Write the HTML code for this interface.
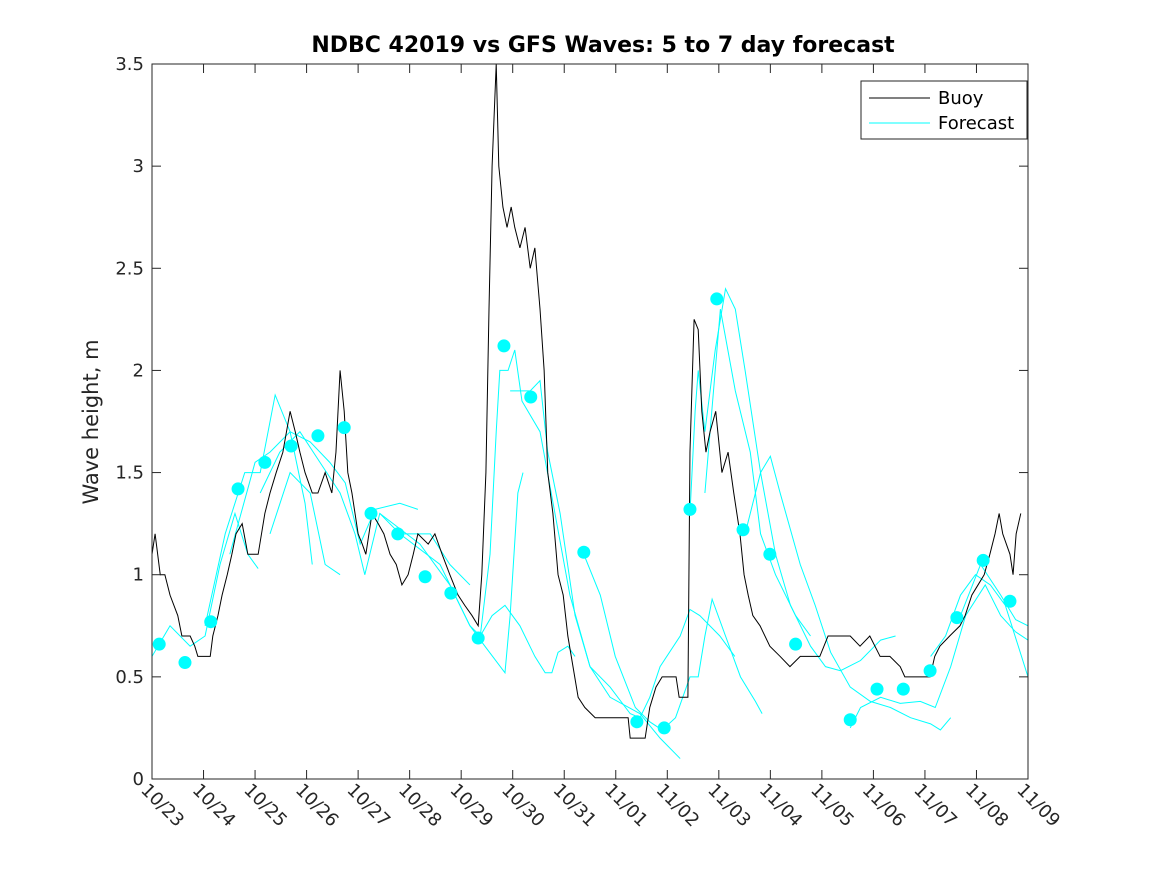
<!DOCTYPE html>
<html><head><meta charset="utf-8"><style>
body{margin:0;background:#fff;}
svg{display:block;font-family:"DejaVu Sans","Liberation Sans",sans-serif;}
</style></head><body>
<svg id="chart" width="1167" height="875">
<rect width="1167" height="875" fill="#fff"/>
<g id="plot"></g>
</svg>
<script>
const xTickLabels=["10/23","10/24","10/25","10/26","10/27","10/28","10/29","10/30","10/31","11/01","11/02","11/03","11/04","11/05","11/06","11/07","11/08","11/09"];
const yTicks=[0,0.5,1,1.5,2,2.5,3,3.5];
const yTickLabels=["0","0.5","1","1.5","2","2.5","3","3.5"];
const buoyDays=[0,.06,.16,.25,.35,.50,.58,.74,.83,.89,1.13,1.18,1.28,1.36,1.46,1.55,1.63,1.75,1.86,2.06,2.19,2.29,2.41,2.54,2.68,2.78,2.87,2.97,3.11,3.22,3.36,3.49,3.57,3.65,3.73,3.80,3.88,4.00,4.08,4.15,4.27,4.39,4.50,4.62,4.74,4.85,4.97,5.07,5.16,5.36,5.49,5.63,5.78,5.94,6.07,6.21,6.33,6.40,6.48,6.54,6.60,6.68,6.73,6.81,6.89,6.97,7.04,7.14,7.24,7.34,7.43,7.53,7.61,7.68,7.78,7.88,7.98,8.07,8.17,8.27,8.40,8.60,8.89,9.24,9.28,9.57,9.66,9.78,9.90,10.17,10.23,10.40,10.44,10.52,10.60,10.67,10.75,10.83,10.94,11.06,11.18,11.29,11.41,11.49,11.57,11.66,11.80,11.99,12.19,12.38,12.58,12.77,12.96,13.12,13.55,13.74,13.93,14.13,14.32,14.52,14.61,15.10,15.19,15.29,15.48,15.68,15.78,15.91,16.03,16.15,16.26,16.36,16.44,16.51,16.65,16.71,16.77,16.86];
const buoyVals=[1.1,1.2,1.0,1.0,0.9,0.8,0.7,0.7,0.65,0.6,0.6,0.7,0.8,0.9,1.0,1.1,1.2,1.25,1.1,1.1,1.3,1.4,1.5,1.6,1.8,1.7,1.6,1.5,1.4,1.4,1.5,1.4,1.6,2.0,1.8,1.5,1.4,1.2,1.15,1.1,1.3,1.25,1.2,1.1,1.05,0.95,1.0,1.1,1.2,1.15,1.2,1.1,1.0,0.9,0.85,0.8,0.75,1.0,1.5,2.3,3.0,3.5,3.0,2.8,2.7,2.8,2.7,2.6,2.7,2.5,2.6,2.3,2.0,1.5,1.3,1.0,0.9,0.7,0.55,0.4,0.35,0.3,0.3,0.3,0.2,0.2,0.35,0.45,0.5,0.5,0.4,0.4,1.6,2.25,2.2,1.8,1.6,1.7,1.8,1.5,1.6,1.4,1.2,1.0,0.9,0.8,0.75,0.65,0.6,0.55,0.6,0.6,0.6,0.7,0.7,0.65,0.7,0.6,0.6,0.55,0.5,0.5,0.6,0.65,0.7,0.75,0.8,0.9,0.95,1.0,1.1,1.2,1.3,1.2,1.1,1.0,1.2,1.3];
const forecastDays=[
[0,.35,.74,1.03,1.32,1.61,1.86,2.06],
[1.03,1.42,1.80,2.10,2.39,2.68,2.97,3.11],
[1.51,2.00,2.29,2.68,3.07,3.45,3.75,4.04,4.33,4.81,5.16],
[2.10,2.48,2.87,3.26,3.65,3.94,4.13,4.42,4.81,5.40,5.78,6.17],
[2.29,2.68,3.07,3.36,3.65],
[4.42,5.20,5.78,6.17,6.37,6.60,6.85,7.14,7.43,7.63,7.76,7.88,8.07,8.21],
[4.81,5.59,6.17,6.46,6.85,6.95,7.10,7.20],
[6.37,6.56,6.68,6.75,6.91,7.04,7.18,7.53,7.82,8.11,8.50,8.89,9.47,9.86,10.25],
[6.95,7.34,7.53,7.68,7.92,8.21,8.50,8.89,9.28,9.47,9.66,9.86,10.25,10.44,10.63,11.02,11.31],
[8.38,8.70,8.99,9.38,9.66,9.90,10.16,10.44,10.60,10.73,10.87,11.13,11.42,11.71,11.84],
[10.44,10.54,10.60,10.73,10.93,11.13,11.32,11.51,11.81,12.10,12.39,12.78,13.07,13.36,13.75,14.14,14.43],
[10.73,11.03,11.32,11.61,11.81,12.10,12.49,12.78],
[11.51,11.81,12.00,12.19,12.58,12.87,13.17,13.55,13.94,14.33,14.72,15.11,15.30,15.50],
[13.55,13.75,14.14,14.52,14.91,15.20,15.50,15.79,16.17,16.47,16.76,17.0],
[15.11,15.40,15.69,15.98,16.27,16.56,17.0],
[15.69,16.08,16.47,16.76,17.0]];
const forecastVals=[
[0.6,0.75,0.65,0.7,1.05,1.3,1.1,1.03],
[0.75,1.2,1.5,1.5,1.88,1.7,1.35,1.05],
[1.1,1.55,1.6,1.7,1.65,1.55,1.45,1.15,1.32,1.35,1.32],
[1.4,1.6,1.7,1.55,1.4,1.2,1.0,1.3,1.2,1.2,1.05,0.95],
[1.2,1.5,1.4,1.05,1.0],
[1.3,1.15,0.95,0.75,0.7,0.8,0.85,0.75,0.6,0.52,0.52,0.62,0.65,0.6],
[1.2,1.05,0.75,0.65,0.52,0.8,1.4,1.5],
[0.7,1.1,1.7,2.0,2.0,2.1,1.85,1.7,1.3,0.9,0.55,0.4,0.32,0.2,0.1],
[1.9,1.9,1.95,1.6,1.3,0.8,0.55,0.45,0.32,0.3,0.4,0.55,0.7,0.83,0.8,0.7,0.6],
[1.1,0.9,0.6,0.35,0.28,0.24,0.3,0.5,0.5,0.7,0.88,0.7,0.5,0.38,0.32],
[1.3,1.8,2.0,1.7,2.1,2.4,2.3,2.0,1.5,1.1,0.85,0.65,0.55,0.53,0.58,0.68,0.7],
[1.4,2.3,1.9,1.6,1.2,1.0,0.8,0.7],
[1.2,1.5,1.58,1.4,1.05,0.85,0.62,0.45,0.38,0.35,0.3,0.27,0.24,0.3],
[0.25,0.35,0.4,0.37,0.38,0.35,0.55,0.8,0.95,0.8,0.72,0.68],
[0.6,0.7,0.9,1.0,0.95,0.85,0.5],
[0.8,1.05,0.9,0.78,0.75]];
const dotDays=[0.14,0.64,1.14,1.67,2.19,2.70,3.22,3.73,4.25,4.77,5.30,5.80,6.33,6.83,7.35,8.38,9.41,9.94,10.44,10.96,11.47,11.99,12.49,13.55,14.07,14.58,15.10,15.62,16.13,16.65];
const dotVals=[0.66,0.57,0.77,1.42,1.55,1.63,1.68,1.72,1.30,1.20,0.99,0.91,0.69,2.12,1.87,1.11,0.28,0.25,1.32,2.35,1.22,1.10,0.66,0.29,0.44,0.44,0.53,0.79,1.07,0.87];

const L=152,R=1028,T=64,B=779;
const xs=d=>L+(R-L)*d/17;
const ys=v=>B-(B-T)*v/3.5;
const NS="http://www.w3.org/2000/svg";
const g=document.getElementById('plot');
function mk(tag,attrs,parent){const e=document.createElementNS(NS,tag);for(const k in attrs)e.setAttribute(k,attrs[k]);(parent||g).appendChild(e);return e;}

const clip=mk('clipPath',{id:'pc'});mk('rect',{x:L,y:T,width:R-L,height:B-T},clip);

let t=mk('text',{x:603,y:52,'text-anchor':'middle','font-size':22,'font-weight':'bold',fill:'#000'});
t.textContent='NDBC 42019 vs GFS Waves: 5 to 7 day forecast';



t=mk('text',{x:0,y:0,transform:'translate(98,422) rotate(-90)','text-anchor':'middle','font-size':21,fill:'#262626'});
t.textContent='Wave height, m';



const fl=mk('g',{'clip-path':'url(#pc)'});


forecastDays.forEach((ds,i)=>{
  const p=mk('polyline',{points:ds.map((d,j)=>xs(d)+','+ys(forecastVals[i][j])).join(' '),fill:'none',stroke:'#00ffff','stroke-width':1},fl);
  
  
});
const bl=mk('polyline',{points:buoyDays.map((d,i)=>xs(d)+','+ys(buoyVals[i])).join(' '),fill:'none',stroke:'#000','stroke-width':1,'clip-path':'url(#pc)'});


const dg=mk('g',{'clip-path':'url(#pc)'});
dotDays.forEach((d,i)=>{
  const c=mk('circle',{cx:xs(d),cy:ys(dotVals[i]),r:6.5,fill:'#00ffff'},dg);
  
  
});

const ax=mk('rect',{x:L,y:T,width:R-L,height:B-T,fill:'none',stroke:'#262626','stroke-width':1});


yTicks.forEach((v,i)=>{
  mk('line',{x1:L,x2:L+9,y1:ys(v),y2:ys(v),stroke:'#262626'});
  mk('line',{x1:R,x2:R-9,y1:ys(v),y2:ys(v),stroke:'#262626'});
  const tx=mk('text',{x:L-8,y:ys(v)+6,'text-anchor':'end','font-size':18,fill:'#262626'});
  tx.textContent=yTickLabels[i];
  
  
});
xTickLabels.forEach((s,i)=>{
  const x=xs(i);
  mk('line',{x1:x,x2:x,y1:B,y2:B-9,stroke:'#262626'});
  mk('line',{x1:x,x2:x,y1:T,y2:T+9,stroke:'#262626'});
  const tx=mk('text',{x:0,y:0,transform:`translate(${x-12},${B+12}) rotate(45)`,'font-size':18,fill:'#262626'});
  tx.textContent=s;
  
  
});

const lg=mk('g',{});


mk('rect',{x:861,y:81,width:166,height:58,fill:'#fff',stroke:'#262626'},lg);
mk('line',{x1:869,x2:930,y1:98,y2:98,stroke:'#000'},lg);
mk('line',{x1:869,x2:930,y1:123,y2:123,stroke:'#00ffff'},lg);
let e=mk('text',{x:938,y:104,'font-size':18,fill:'#000'},lg);e.textContent='Buoy';


e=mk('text',{x:938,y:129,'font-size':18,fill:'#000'},lg);e.textContent='Forecast';


</script>
</body></html>
